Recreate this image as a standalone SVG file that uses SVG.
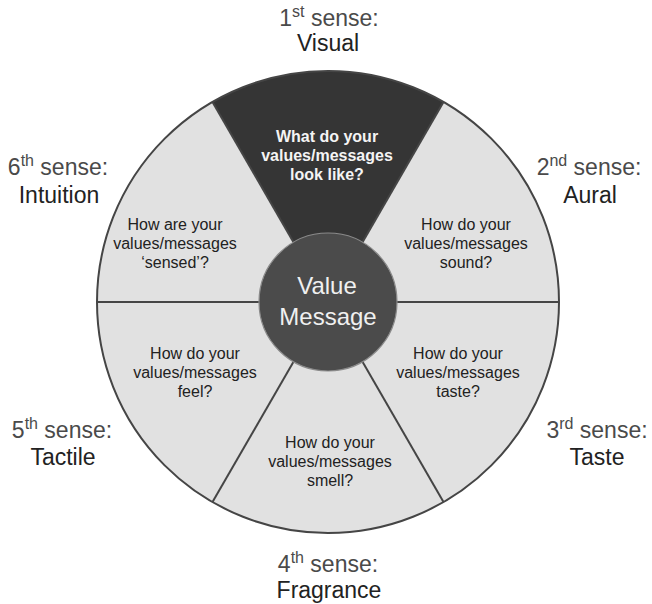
<svg xmlns="http://www.w3.org/2000/svg" width="652" height="604" viewBox="0 0 652 604">
<style>
.wl{fill:#e1e1e1;}
.wd{fill:#353535;}
.q{font-family:"Liberation Sans",Arial,sans-serif;font-size:16px;fill:#222;text-anchor:middle;}
.qd{font-family:"Liberation Sans",Arial,sans-serif;font-size:16px;font-weight:bold;fill:#f4f4f4;text-anchor:middle;}
.lab{font-family:"Liberation Sans",Arial,sans-serif;font-size:23px;text-anchor:middle;}
.s1{fill:#4a4a4a;}
.s2{fill:#222;}
.sup{font-size:16px;}
.sp{stroke:#454545;stroke-width:2;fill:none;}
.c{font-family:"Liberation Sans",Arial,sans-serif;font-size:24px;fill:#f0f0f0;text-anchor:middle;}
</style>
<rect width="652" height="604" fill="#ffffff"/>
<g id="wheel">
<g id="sector-visual">
<path class="wd" d="M328,302 L212.5,102 A231,231 0 0 1 443.5,102 Z"/>
<text class="qd"><tspan x="327" y="142">What do your</tspan><tspan x="327" y="161">values/messages</tspan><tspan x="327" y="180">look like?</tspan></text>
</g>
<g id="sector-aural">
<path class="wl" d="M328,302 L443.5,102 A231,231 0 0 1 559,302 Z"/>
<text class="q"><tspan x="466" y="230">How do your</tspan><tspan x="466" y="249">values/messages</tspan><tspan x="466" y="268">sound?</tspan></text>
</g>
<g id="sector-taste">
<path class="wl" d="M328,302 L559,302 A231,231 0 0 1 443.5,502 Z"/>
<text class="q"><tspan x="458" y="359">How do your</tspan><tspan x="458" y="378">values/messages</tspan><tspan x="458" y="397">taste?</tspan></text>
</g>
<g id="sector-fragrance">
<path class="wl" d="M328,302 L443.5,502 A231,231 0 0 1 212.5,502 Z"/>
<text class="q"><tspan x="330" y="448">How do your</tspan><tspan x="330" y="467">values/messages</tspan><tspan x="330" y="486">smell?</tspan></text>
</g>
<g id="sector-tactile">
<path class="wl" d="M328,302 L212.5,502 A231,231 0 0 1 97,302 Z"/>
<text class="q"><tspan x="195" y="359">How do your</tspan><tspan x="195" y="378">values/messages</tspan><tspan x="195" y="397">feel?</tspan></text>
</g>
<g id="sector-intuition">
<path class="wl" d="M328,302 L97,302 A231,231 0 0 1 212.5,102 Z"/>
<text class="q"><tspan x="175" y="230">How are your</tspan><tspan x="175" y="249">values/messages</tspan><tspan x="175" y="268">‘sensed’?</tspan></text>
</g>
</g>
<g id="connectors">
<line class="sp" x1="328" y1="302" x2="212.5" y2="102"/>
<line class="sp" x1="328" y1="302" x2="443.5" y2="102"/>
<line class="sp" x1="328" y1="302" x2="559" y2="302"/>
<line class="sp" x1="328" y1="302" x2="443.5" y2="502"/>
<line class="sp" x1="328" y1="302" x2="212.5" y2="502"/>
<line class="sp" x1="328" y1="302" x2="97" y2="302"/>
<circle class="sp" cx="328" cy="302" r="231"/>
</g>
<g id="center">
<circle cx="328" cy="302" r="69" fill="#4b4b4b" stroke="#8a8a8a" stroke-width="1.2"/>
<text class="c"><tspan x="327" y="294">Value</tspan><tspan x="328" y="325">Message</tspan></text>
</g>
<g id="label-1">
<text class="lab"><tspan x="329" y="26" class="s1">1<tspan class="sup" dy="-9">st</tspan><tspan dy="9"> sense:</tspan></tspan><tspan x="328" y="51" class="s2">Visual</tspan></text>
</g>
<g id="label-2">
<text class="lab"><tspan x="589" y="175" class="s1">2<tspan class="sup" dy="-9">nd</tspan><tspan dy="9"> sense:</tspan></tspan><tspan x="590" y="203" class="s2">Aural</tspan></text>
</g>
<g id="label-3">
<text class="lab"><tspan x="597" y="438" class="s1">3<tspan class="sup" dy="-9">rd</tspan><tspan dy="9"> sense:</tspan></tspan><tspan x="597" y="465" class="s2">Taste</tspan></text>
</g>
<g id="label-4">
<text class="lab"><tspan x="328" y="572" class="s1">4<tspan class="sup" dy="-9">th</tspan><tspan dy="9"> sense:</tspan></tspan><tspan x="329" y="598" class="s2">Fragrance</tspan></text>
</g>
<g id="label-5">
<text class="lab"><tspan x="62" y="438" class="s1">5<tspan class="sup" dy="-9">th</tspan><tspan dy="9"> sense:</tspan></tspan><tspan x="63" y="465" class="s2">Tactile</tspan></text>
</g>
<g id="label-6">
<text class="lab"><tspan x="58" y="175" class="s1">6<tspan class="sup" dy="-9">th</tspan><tspan dy="9"> sense:</tspan></tspan><tspan x="59" y="203" class="s2">Intuition</tspan></text>
</g>
</svg>
